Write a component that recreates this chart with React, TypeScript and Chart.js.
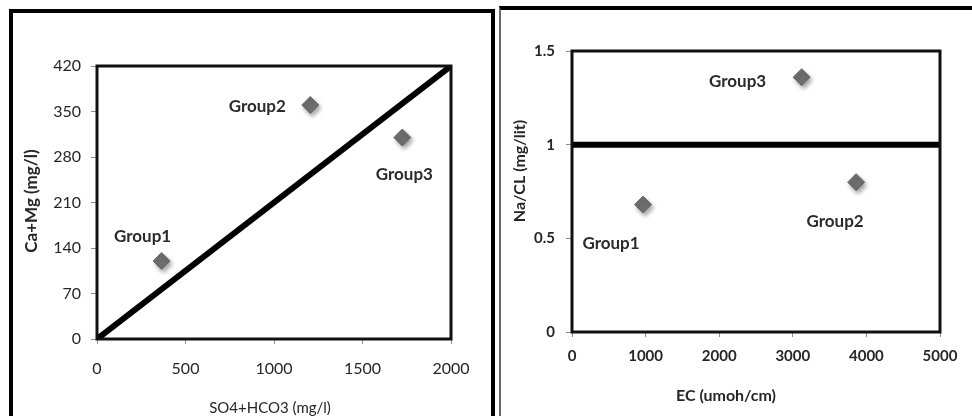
import React, { useEffect, useRef } from "react";
import { Chart, registerables } from "chart.js";

Chart.register(...registerables);

// ---------- data: left panel ----------
const groupNames = ["Group1", "Group2", "Group3"];
const sulfateBicarb = [365, 1205, 1725];
const calciumMagnesium = [120, 360, 310];
const equilineX = [0, 2000];
const equilineY = [0, 420];
const leftXTicks = [0, 500, 1000, 1500, 2000];
const leftYTicks = [0, 70, 140, 210, 280, 350, 420];

// ---------- data: right panel ----------
const ecValues = [965, 3860, 3120];
const naClRatio = [0.68, 0.8, 1.36];
const ratioLineX = [0, 5000];
const ratioLineY = [1, 1];
const rightXTicks = [0, 1000, 2000, 3000, 4000, 5000];
const rightYTicks = [0, 0.5, 1, 1.5];

// ---------- styling ----------
const FONT = "Lato, 'Noto Sans', sans-serif";
const leftLabelOffsets = [[-19, -24], [-53, 2], [2, 37]];
const rightLabelOffsets = [[-32, 39], [-21, 39], [-64, 4]];

type TitleSpec = { text: string; x: number; y: number; vertical: boolean; font: string };

type PanelCfg = {
  width: number;
  height: number;
  area: { left: number; top: number; right: number; bottom: number };
  xs: number[];
  ys: number[];
  lineX: number[];
  lineY: number[];
  xMin: number; xMax: number; xTicks: number[];
  yMin: number; yMax: number; yTicks: number[];
  titles: TitleSpec[];
  tickFont: any;
  xTickPad: number; yTickPad: number;
  offsets: number[][];
};

function buildChart(canvas: HTMLCanvasElement, c: PanelCfg) {
  const framePlugin = {
    id: "frame",
    beforeDatasetDraw(chart: any, args: any) {
      if (args.index === 1) {
        const ctx = chart.ctx;
        ctx.save();
        ctx.shadowColor = "rgba(0,0,0,0.35)";
        ctx.shadowBlur = 4;
        ctx.shadowOffsetX = 2;
        ctx.shadowOffsetY = 3;
      }
    },
    afterDatasetDraw(chart: any, args: any) {
      if (args.index === 1) chart.ctx.restore();
    },
    afterDatasetsDraw(chart: any) {
      const ctx = chart.ctx;
      const a = chart.chartArea;
      ctx.save();
      ctx.strokeStyle = "#111";
      ctx.lineWidth = 3;
      ctx.strokeRect(a.left, a.top, a.right - a.left, a.bottom - a.top);
      const meta = chart.getDatasetMeta(1);
      ctx.fillStyle = "#2b2b2b";
      ctx.font = "bold 17px " + FONT;
      ctx.textAlign = "center";
      ctx.textBaseline = "middle";
      meta.data.forEach((pt: any, i: number) => {
        const o = c.offsets[i];
        ctx.fillText(groupNames[i], pt.x + o[0], pt.y + o[1]);
      });
      // axis titles
      ctx.fillStyle = "#262626";
      c.titles.forEach((t) => {
        ctx.save();
        ctx.font = t.font;
        ctx.translate(t.x, t.y);
        if (t.vertical) ctx.rotate(-Math.PI / 2);
        ctx.fillText(t.text, 0, 0);
        ctx.restore();
      });
      ctx.restore();
    },
  };

  const xH = c.height - c.area.bottom;
  const yW = c.area.left;

  return new Chart(canvas, {
    type: "scatter",
    data: {
      datasets: [
        {
          type: "line",
          data: c.lineX.map((x, i) => ({ x, y: c.lineY[i] })),
          borderColor: "#000",
          borderWidth: 6,
          pointRadius: 0,
          fill: false,
        } as any,
        {
          data: c.xs.map((x, i) => ({ x, y: c.ys[i] })),
          pointStyle: "rectRot",
          pointRadius: 8.5,
          pointBackgroundColor: "#6f6f6f",
          pointBorderColor: "#666",
          pointBorderWidth: 1,
        },
      ],
    },
    options: {
      responsive: false,
      animation: false,
      devicePixelRatio: 1,
      layout: {
        padding: { left: 0, top: c.area.top, right: c.width - c.area.right, bottom: 0 },
      },
      plugins: { legend: { display: false }, tooltip: { enabled: false } },
      scales: {
        x: {
          type: "linear",
          min: c.xMin,
          max: c.xMax,
          afterBuildTicks: (s: any) => {
            s.ticks = c.xTicks.map((v) => ({ value: v }));
          },
          afterFit: (s: any) => {
            s.height = xH;
            s.paddingLeft = 0;
            s.paddingRight = 0;
          },
          grid: { drawOnChartArea: false, drawTicks: true, tickLength: 5, color: "#8c8c8c" },
          border: { display: false },
          ticks: {
            padding: c.xTickPad,
            font: c.tickFont,
            color: "#262626",
            maxRotation: 0,
            autoSkip: false,
            callback: (v: any) => String(v),
          },
        },
        y: {
          type: "linear",
          min: c.yMin,
          max: c.yMax,
          afterBuildTicks: (s: any) => {
            s.ticks = c.yTicks.map((v) => ({ value: v }));
          },
          afterFit: (s: any) => {
            s.width = yW;
            s.paddingTop = 0;
            s.paddingBottom = 0;
          },
          grid: { drawOnChartArea: false, drawTicks: true, tickLength: 6, color: "#8c8c8c" },
          border: { display: false },
          ticks: {
            padding: c.yTickPad,
            font: c.tickFont,
            color: "#262626",
            autoSkip: false,
            callback: (v: any) => String(v),
          },
        },
      },
    },
    plugins: [framePlugin],
  } as any);
}

export default function App() {
  const leftRef = useRef<HTMLCanvasElement>(null);
  const rightRef = useRef<HTMLCanvasElement>(null);

  useEffect(() => {
    const left = buildChart(leftRef.current!, {
      width: 496,
      height: 416,
      area: { left: 97, top: 66, right: 451, bottom: 339 },
      xs: sulfateBicarb,
      ys: calciumMagnesium,
      lineX: equilineX,
      lineY: equilineY,
      xMin: 0, xMax: 2000, xTicks: leftXTicks,
      yMin: 0, yMax: 420, yTicks: leftYTicks,
      titles: [
        { text: "SO4+HCO3 (mg/l)", x: 270, y: 408, vertical: false, font: "15px " + FONT },
        { text: "Ca+Mg (mg/l)", x: 32, y: 201, vertical: true, font: "bold 17px " + FONT },
      ],
      tickFont: { family: FONT, size: 16, weight: "normal" },
      xTickPad: 15,
      yTickPad: 10,
      offsets: leftLabelOffsets,
    });
    const right = buildChart(rightRef.current!, {
      width: 476,
      height: 416,
      area: { left: 76, top: 51, right: 444, bottom: 332 },
      xs: ecValues,
      ys: naClRatio,
      lineX: ratioLineX,
      lineY: ratioLineY,
      xMin: 0, xMax: 5000, xTicks: rightXTicks,
      yMin: 0, yMax: 1.5, yTicks: rightYTicks,
      titles: [
        { text: "EC (umoh/cm)", x: 230, y: 396, vertical: false, font: "bold 16px " + FONT },
        { text: "Na/CL (mg/lit)", x: 24, y: 171, vertical: true, font: "bold 16px " + FONT },
      ],
      tickFont: { family: FONT, size: 15, weight: "bold" },
      xTickPad: 10,
      yTickPad: 11,
      offsets: rightLabelOffsets,
    });
    return () => {
      left.destroy();
      right.destroy();
    };
  }, []);

  return (
    <div
      style={{
        position: "fixed",
        left: 0,
        top: 0,
        width: 972,
        height: 416,
        background: "#fff",
        overflow: "hidden",
      }}
    >
      <div
        style={{
          position: "absolute",
          left: 9,
          top: 9,
          width: 486,
          height: 430,
          boxSizing: "border-box",
          border: "4px solid #000",
        }}
      />
      <div
        style={{
          position: "absolute",
          left: 499,
          top: 6,
          width: 480,
          height: 430,
          boxSizing: "border-box",
          borderTop: "4px solid #000",
          borderLeft: "2px solid #6a6a6a",
        }}
      />
      <canvas
        ref={leftRef}
        width={496}
        height={416}
        style={{ position: "absolute", left: 0, top: 0, width: 496, height: 416 }}
      />
      <canvas
        ref={rightRef}
        width={476}
        height={416}
        style={{ position: "absolute", left: 496, top: 0, width: 476, height: 416 }}
      />
    </div>
  );
}
